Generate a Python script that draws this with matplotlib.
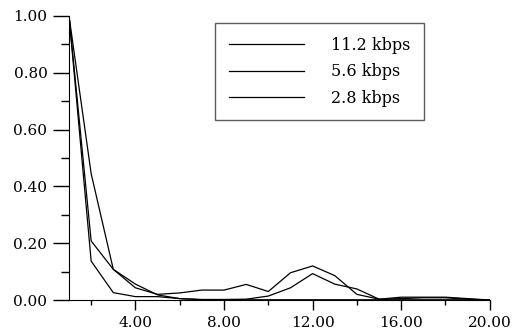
import matplotlib
matplotlib.use("Agg")
import matplotlib.pyplot as plt
import numpy as np
from matplotlib.ticker import MultipleLocator, FormatStrFormatter

x = np.arange(1, 21)
labels = ["11.2 kbps", "5.6 kbps", "2.8 kbps"]

rate_11_2 = [1.0, 0.445, 0.108, 0.056, 0.018, 0.005, 0.002, 0.002, 0.003, 0.014,
             0.043, 0.093, 0.056, 0.039, 0.003, 0.005, 0.008, 0.008, 0.003, 0.0]
rate_5_6 = [1.0, 0.208, 0.108, 0.043, 0.02, 0.025, 0.035, 0.035, 0.055, 0.03,
            0.096, 0.12, 0.086, 0.02, 0.003, 0.01, 0.01, 0.01, 0.005, 0.0]
rate_2_8 = [1.0, 0.137, 0.026, 0.012, 0.012, 0.005, 0.001, 0.001, 0.001, 0.001,
            0.001, 0.001, 0.001, 0.001, 0.001, 0.001, 0.001, 0.001, 0.001, 0.0]

plt.rcParams['font.family'] = ['DejaVu Serif']

fig = plt.figure(figsize=(5.15, 3.33), dpi=100)
ax = fig.add_axes([0.134, 0.099, 0.817, 0.853])

for s, lab in zip([rate_11_2, rate_5_6, rate_2_8], labels):
    ax.plot(x, s, color='black', lw=0.9, label=lab)

ax.set_xlim(1, 20)
ax.set_ylim(0, 1.0)
ax.xaxis.set_major_locator(MultipleLocator(4))
ax.xaxis.set_minor_locator(MultipleLocator(2))
ax.yaxis.set_major_locator(MultipleLocator(0.2))
ax.yaxis.set_minor_locator(MultipleLocator(0.1))
ax.xaxis.set_major_formatter(FormatStrFormatter('%.2f'))
ax.yaxis.set_major_formatter(FormatStrFormatter('%.2f'))
ax.spines['top'].set_visible(False)
ax.spines['right'].set_visible(False)
ax.tick_params(which='both', direction='out', width=1, labelsize=11)
ax.tick_params(axis='y', which='major', length=11.5, pad=4)
ax.tick_params(axis='y', which='minor', length=5.8)
ax.tick_params(axis='x', which='major', length=7.2, pad=4)
ax.tick_params(axis='x', which='minor', length=3.6)

leg = ax.legend(loc='upper left', bbox_to_anchor=(0.347, 0.975), frameon=True,
                fancybox=False, edgecolor='#333333', fontsize=11.5, handlelength=4.75,
                handletextpad=1.65, borderpad=0.85, labelspacing=0.6,
                borderaxespad=0)
leg.get_frame().set_linewidth(1.0)

fig.savefig("out.png", dpi=100)
